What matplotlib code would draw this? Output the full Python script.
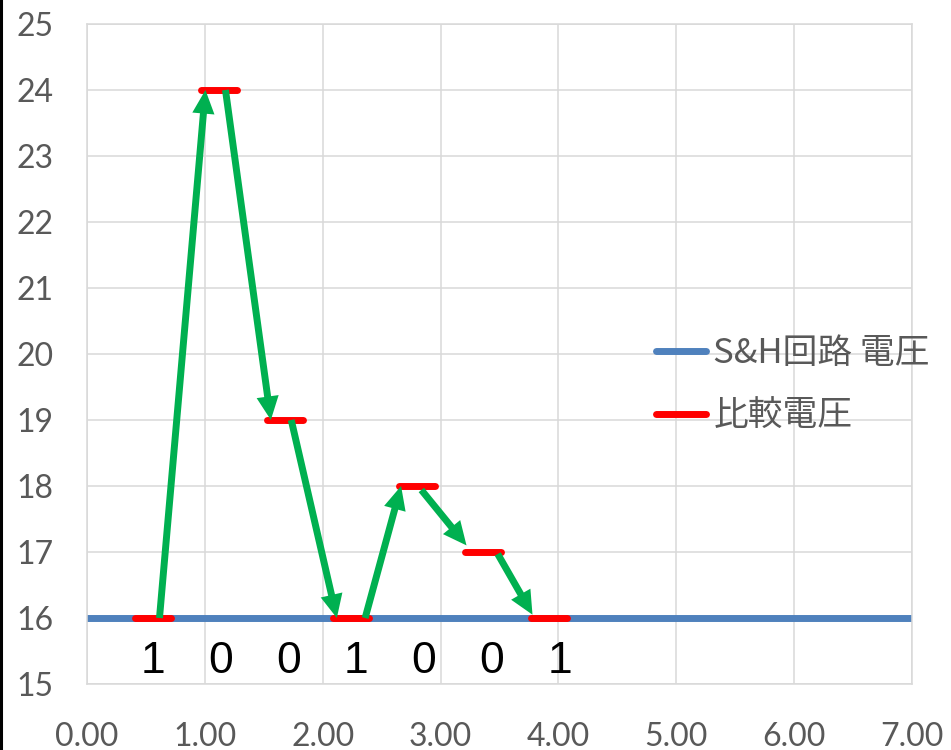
import numpy as np
import matplotlib
matplotlib.use("Agg")
import matplotlib.pyplot as plt
from matplotlib.lines import Line2D

# --- data ---
x_ticks = [0, 1, 2, 3, 4, 5, 6, 7]
y_ticks = list(range(15, 26))
sh_x = [0.0, 7.0]
sh_v = [16, 16]
cmp_start = [0.41, 0.97, 1.53, 2.09, 2.65, 3.21, 3.77]
cmp_level = [16, 24, 19, 16, 18, 17, 16]
cmp_width = 0.30
arrow_x0 = [0.615, 1.175, 1.733, 2.36, 2.837, 3.485]
arrow_y0 = [16, 24, 19, 16, 17.94, 16.97]
arrow_x1 = [1.005, 1.56, 2.12, 2.665, 3.22, 3.78]
arrow_y1 = [24, 19, 16, 18, 17.1, 16.05]
bits = [1, 0, 0, 1, 0, 0, 1]
bit_x0 = 0.56
bit_step = 0.575

BLUE = "#4F81BD"
RED = "#FF0000"
GREEN = "#00B050"
GREY_TXT = "#595959"
GRID = "#D9D9D9"

fig = plt.figure(figsize=(9.51, 7.5), dpi=100)
ax = fig.add_axes([87 / 951, 66 / 750, 825 / 951, 660 / 750])

ax.set_xlim(0, 7)
ax.set_ylim(15, 25)
ax.set_xticks(x_ticks)
ax.set_yticks(y_ticks)
ax.set_xticklabels([f"{v:.2f}" for v in x_ticks])
ax.grid(True, color=GRID, lw=1.1, zorder=0)
ax.set_axisbelow(True)
for s in ax.spines.values():
    s.set_color(GRID)
    s.set_linewidth(1.1)
ax.tick_params(length=0, labelsize=23, labelcolor=GREY_TXT, pad=24)
for lab in ax.get_xticklabels() + ax.get_yticklabels():
    lab.set_fontfamily("Lato")
ax.tick_params(axis="x", pad=27)

# S&H circuit voltage
ax.plot(sh_x, sh_v, color=BLUE, lw=5, solid_capstyle="round", zorder=2,
        label="S&H回路 電圧")

# comparison voltage steps
cx, cy = [], []
for s, v in zip(cmp_start, cmp_level):
    cx += [s, s + cmp_width, np.nan]
    cy += [v, v, np.nan]
ax.plot(cx, cy, color=RED, lw=5, solid_capstyle="round", zorder=3,
        label="比較電圧")

# successive-approximation arrows
for x0, y0, x1, y1 in zip(arrow_x0, arrow_y0, arrow_x1, arrow_y1):
    ax.annotate("", xy=(x1, y1), xytext=(x0, y0),
                arrowprops=dict(arrowstyle="simple,head_length=17,head_width=16,tail_width=5",
                                mutation_scale=1, color=GREEN, shrinkA=0, shrinkB=0,
                                lw=0),
                zorder=4)

# output bits
for i, b in enumerate(bits):
    ax.text(bit_x0 + bit_step * i, 15.17, str(b), fontsize=32, color="black",
            family="Liberation Sans", ha="center", va="baseline", zorder=5)

leg = ax.legend(loc="center left", bbox_to_anchor=(0.69, 0.453), frameon=False,
                prop={"family": ["Noto Sans CJK JP", "DejaVu Sans"], "size": 25},
                handlelength=1.44, handletextpad=0.2, labelspacing=0.8,
                borderaxespad=0, borderpad=0)
for t in leg.get_texts():
    t.set_color(GREY_TXT)
for h in leg.get_lines():
    h.set_solid_capstyle("round")

# left border of the image
fig.add_artist(Line2D([0.0015, 0.0015], [0, 1], color="black", lw=2.2,
                      transform=fig.transFigure))

fig.savefig("out.png", dpi=100)
